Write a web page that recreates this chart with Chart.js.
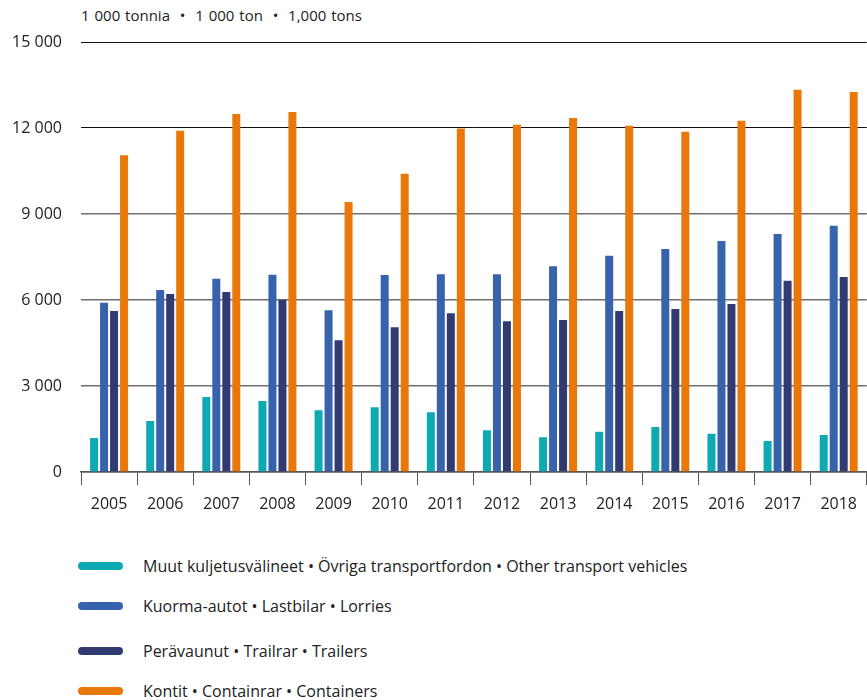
<!DOCTYPE html>
<html>
<head>
<meta charset="utf-8">
<script src="https://cdn.jsdelivr.net/npm/chart.js@4"></script>
<style>
  body { margin: 0; background: #fff; font-family: "Open Sans", sans-serif; color: #222; }
  #wrap { position: relative; width: 867px; height: 700px; }
  #unit { position: absolute; left: 81px; top: 5px; font-size: 15px; word-spacing: 1px; }
  #chartBox { position: absolute; left: 0; top: 0; width: 867px; height: 530px; }
  #legend { position: absolute; left: 78px; top: 555px; list-style: none; margin: 0; padding: 0; font-size: 16px; }
  #legend li { display: flex; align-items: center; height: 22px; margin-bottom: 18px; }
  #legend li:nth-child(2) { margin-bottom: 23px; }
  #legend span.sw { display: inline-block; width: 45px; height: 8px; border-radius: 4px; margin-right: 20px; }
</style>
</head>
<body>
<div id="wrap">
  <div id="unit">1 000 tonnia &nbsp;•&nbsp; 1 000 ton &nbsp;•&nbsp; 1,000 tons</div>
  <div id="chartBox"><canvas id="freightChart"></canvas></div>
  <ul id="legend"></ul>
</div>
<script>
// === Data ===
const years = ["2005","2006","2007","2008","2009","2010","2011","2012","2013","2014","2015","2016","2017","2018"];
const otherVehicles = [1190, 1780, 2620, 2480, 2150, 2260, 2080, 1460, 1210, 1400, 1570, 1330, 1080, 1290];
const lorries = [5900, 6350, 6740, 6880, 5640, 6870, 6900, 6900, 7180, 7540, 7780, 8060, 8300, 8590];
const trailers = [5620, 6210, 6280, 6000, 4600, 5050, 5540, 5260, 5300, 5620, 5690, 5860, 6670, 6800];
const containers = [11050, 11900, 12490, 12560, 9420, 10400, 11980, 12110, 12350, 12075, 11870, 12250, 13330, 13260];
const yTicks = [0, 3000, 6000, 9000, 12000, 15000];

const seriesNames = [
  "Muut kuljetusvälineet • Övriga transportfordon • Other transport vehicles",
  "Kuorma-autot • Lastbilar • Lorries",
  "Perävaunut • Trailrar • Trailers",
  "Kontit • Containrar • Containers"
];
const seriesColors = ["#0eaab2", "#3763ad", "#323a72", "#ea7709"];
const seriesValues = [otherVehicles, lorries, trailers, containers];

const fmt = v => String(v).replace(/\B(?=(\d{3})+(?!\d))/g, " ");

const chart = new Chart(document.getElementById("freightChart"), {
  type: "bar",
  data: {
    labels: years,
    datasets: seriesValues.map((vals, i) => ({
      label: seriesNames[i],
      data: vals,
      backgroundColor: seriesColors[i],
      categoryPercentage: 0.7125,
      barPercentage: 0.8
    }))
  },
  options: {
    responsive: true,
    maintainAspectRatio: false,
    animation: false,
    layout: { padding: { top: 42, right: 0, left: 0, bottom: 0 } },
    plugins: { legend: { display: false }, tooltip: { enabled: false } },
    scales: {
      x: {
        offset: true,
        border: { display: true, color: "#555", width: 1.5 },
        grid: { offset: true, drawOnChartArea: false, drawTicks: true, tickLength: 13, color: "#555" },
        ticks: { color: "#222", font: { family: "Open Sans", size: 16 }, padding: 10, maxRotation: 0 },
        afterFit: s => { s.height = 58; }
      },
      y: {
        min: 0,
        max: 15000,
        border: { display: false },
        afterBuildTicks: s => { s.ticks = yTicks.map(v => ({ value: v })); },
        afterFit: s => { s.width = 81; },
        grid: {
          drawTicks: false,
          color: c => (c.tick && c.tick.value >= 12000 ? "#111" : "#6f6f6f"),
          lineWidth: c => (c.tick && c.tick.value >= 12000 ? 1 : 1.5)
        },
        ticks: { color: "#222", font: { family: "Open Sans", size: 16 }, padding: 19, callback: v => fmt(v) }
      }
    }
  }
});

// === HTML legend ===
const legend = document.getElementById("legend");
chart.data.datasets.forEach(ds => {
  const li = document.createElement("li");
  li.innerHTML = `<span class="sw" style="background:${ds.backgroundColor}"></span>${ds.label}`;
  legend.appendChild(li);
});
</script>
</body>
</html>
